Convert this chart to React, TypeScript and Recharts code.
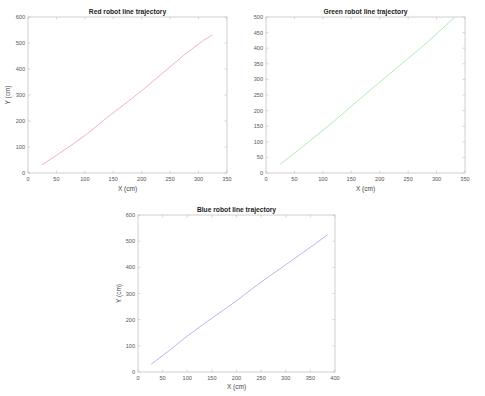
import { LineChart, Line, XAxis, YAxis } from 'recharts'

const redX = [25, 50, 75, 105, 140, 170, 198, 233, 274, 309, 318, 324]
const redY = [32, 68, 105, 152, 215, 265, 313, 377, 453, 511, 522, 532]
const greenX = [25, 60, 90, 117, 145, 175, 210, 245, 270, 292, 315, 332]
const greenY = [28, 78, 122, 162, 206, 253, 306, 360, 397, 433, 471, 500]
const blueX = [27, 60, 95, 133, 170, 200, 233, 265, 300, 330, 360, 385]
const blueY = [30, 77, 130, 183, 232, 272, 320, 364, 410, 450, 490, 525]

const xTicks350 = [0, 50, 100, 150, 200, 250, 300, 350]
const xTicks400 = [0, 50, 100, 150, 200, 250, 300, 350, 400]
const yTicks600 = [0, 100, 200, 300, 400, 500, 600]
const yTicks500 = [0, 50, 100, 150, 200, 250, 300, 350, 400, 450, 500]

const FONT = '"Liberation Sans", Arial, Helvetica, sans-serif'
const BOX = '#c4c4c4'
const TICK_TEXT = '#555'

// eslint-disable-next-line @typescript-eslint/no-explicit-any
function BottomTick({ x, y, payload }: any) {
  return (
    <g>
      <line x1={x} x2={x} y1={y} y2={y - 2.5} stroke={BOX} strokeWidth={0.7} />
      <text x={x} y={y + 7.5} textAnchor="middle" fontSize={5.6} fill={TICK_TEXT} fontFamily={FONT}>
        {payload.value}
      </text>
    </g>
  )
}

// eslint-disable-next-line @typescript-eslint/no-explicit-any
function LeftTick({ x, y, payload }: any) {
  return (
    <g>
      <line x1={x} x2={x + 2.5} y1={y} y2={y} stroke={BOX} strokeWidth={0.7} />
      <text x={x - 3} y={y + 2} textAnchor="end" fontSize={5.6} fill={TICK_TEXT} fontFamily={FONT}>
        {payload.value}
      </text>
    </g>
  )
}

// eslint-disable-next-line @typescript-eslint/no-explicit-any
function TopTick({ x, y }: any) {
  return <line x1={x} x2={x} y1={y} y2={y + 2.5} stroke={BOX} strokeWidth={0.7} />
}

// eslint-disable-next-line @typescript-eslint/no-explicit-any
function RightTick({ x, y }: any) {
  return <line x1={x} x2={x - 2.5} y1={y} y2={y} stroke={BOX} strokeWidth={0.7} />
}

interface RobotChartProps {
  title: string
  xs: number[]
  ys: number[]
  color: string
  left: number
  top: number
  width: number
  height: number
  yAxisWidth: number
  xAxisHeight: number
  marginRight: number
  xMax: number
  yMax: number
  xTicks: number[]
  yTicks: number[]
  yLabel?: boolean
  yLabelOffset?: number
}

function RobotChart(p: RobotChartProps) {
  const data = p.xs.map((x, i) => ({ x, y: p.ys[i] }))
  const plotLeft = p.yAxisWidth
  const plotWidth = p.width - p.yAxisWidth - p.marginRight
  return (
    <div style={{ position: 'absolute', left: p.left, top: p.top, width: p.width, height: p.height }}>
      <div style={{
        position: 'absolute', left: plotLeft, width: plotWidth, top: 8, textAlign: 'center',
        fontFamily: FONT, fontWeight: 'bold', fontSize: 6.7, lineHeight: '8px', color: '#222',
        whiteSpace: 'nowrap',
      }}>
        {p.title}
      </div>
      <LineChart width={p.width} height={p.height} data={data}
        margin={{ top: 16, right: p.marginRight - 1, bottom: 0, left: 0 }}>
        <XAxis dataKey="x" type="number" domain={[0, p.xMax]} ticks={p.xTicks} interval={0}
          height={p.xAxisHeight} tickSize={0} tickMargin={0} tick={BottomTick}
          axisLine={{ stroke: BOX, strokeWidth: 0.8 }} tickLine={false}
          label={{ value: 'X (cm)', position: 'insideBottom', offset: 9, fontSize: 6.5, fill: '#444', fontFamily: FONT }} />
        <XAxis xAxisId="top" dataKey="x" orientation="top" type="number" domain={[0, p.xMax]} ticks={p.xTicks}
          interval={0} height={1} tickSize={0} tickMargin={0} tick={TopTick}
          axisLine={{ stroke: BOX, strokeWidth: 0.8 }} tickLine={false} />
        <YAxis type="number" domain={[0, p.yMax]} ticks={p.yTicks} interval={0} width={p.yAxisWidth}
          tickSize={0} tickMargin={0} tick={LeftTick}
          axisLine={{ stroke: BOX, strokeWidth: 0.8 }} tickLine={false}
          label={p.yLabel ? {
            value: 'Y (cm)', angle: -90, position: 'insideLeft', offset: p.yLabelOffset ?? 8,
            fontSize: 6.5, fill: '#444', fontFamily: FONT, style: { textAnchor: 'middle' },
          } : undefined} />
        <YAxis yAxisId="right" orientation="right" type="number" domain={[0, p.yMax]} ticks={p.yTicks}
          interval={0} width={1} tickSize={0} tickMargin={0} tick={RightTick}
          axisLine={{ stroke: BOX, strokeWidth: 0.8 }} tickLine={false} />
        {/* invisible twin so the top and right axes (box edges) get drawn */}
        <Line dataKey="y" xAxisId="top" yAxisId="right" stroke="none" dot={false}
          isAnimationActive={false} />
        <Line dataKey="y" type="linear" stroke={p.color} strokeWidth={0.8} dot={false}
          isAnimationActive={false} />
      </LineChart>
    </div>
  )
}

export default function App() {
  return (
    <div style={{ position: 'absolute', left: 0, top: 0, width: 485, height: 396, background: '#fff', overflow: 'hidden' }}>
      <RobotChart title="Red robot line trajectory" xs={redX} ys={redY} color="#f49aae"
        left={0} top={0} width={240} height={200} yAxisWidth={28} xAxisHeight={27} marginRight={13}
        xMax={350} yMax={600} xTicks={xTicks350} yTicks={yTicks600} yLabel yLabelOffset={8} />
      <RobotChart title="Green robot line trajectory" xs={greenX} ys={greenY} color="#9de69d"
        left={240} top={0} width={245} height={200} yAxisWidth={26} xAxisHeight={27} marginRight={20}
        xMax={350} yMax={500} xTicks={xTicks350} yTicks={yTicks500} />
      <RobotChart title="Blue robot line trajectory" xs={blueX} ys={blueY} color="#a4a4ee"
        left={110} top={198} width={250} height={200} yAxisWidth={28} xAxisHeight={26} marginRight={25}
        xMax={400} yMax={600} xTicks={xTicks400} yTicks={yTicks600} yLabel yLabelOffset={9} />
    </div>
  )
}
